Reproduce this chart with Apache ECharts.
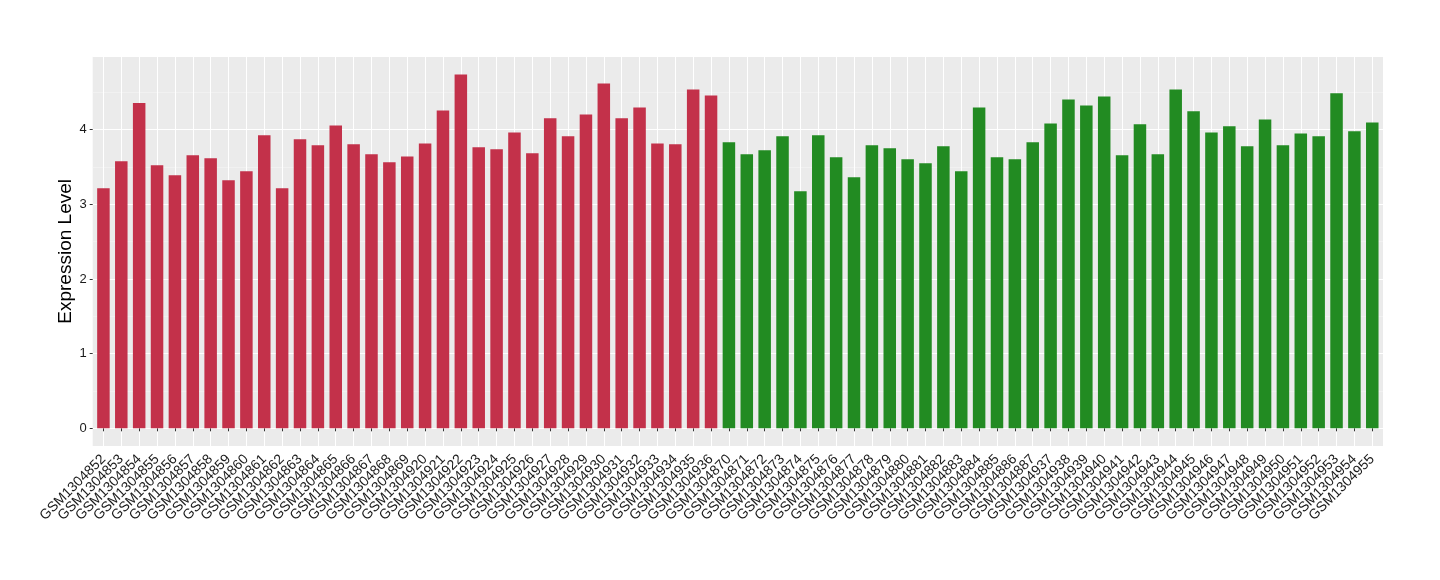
<!DOCTYPE html>
<html>
<head>
<meta charset="utf-8">
<script src="https://cdn.jsdelivr.net/npm/echarts@6/dist/echarts.min.js"></script>
<style>
html,body{margin:0;padding:0;background:#fff;}
#chart{width:1440px;height:580px;}
</style>
</head>
<body>
<div id="chart"></div>
<script>
const groupASamples = ['GSM1304852','GSM1304853','GSM1304854','GSM1304855','GSM1304856','GSM1304857','GSM1304858','GSM1304859','GSM1304860','GSM1304861','GSM1304862','GSM1304863','GSM1304864','GSM1304865','GSM1304866','GSM1304867','GSM1304868','GSM1304869','GSM1304920','GSM1304921','GSM1304922','GSM1304923','GSM1304924','GSM1304925','GSM1304926','GSM1304927','GSM1304928','GSM1304929','GSM1304930','GSM1304931','GSM1304932','GSM1304933','GSM1304934','GSM1304935','GSM1304936'];
const groupAValues = [3.215,3.576,4.356,3.522,3.388,3.656,3.616,3.322,3.442,3.924,3.215,3.870,3.790,4.057,3.803,3.669,3.562,3.642,3.816,4.258,4.740,3.763,3.736,3.963,3.683,4.151,3.910,4.204,4.619,4.151,4.298,3.816,3.803,4.539,4.459];
const groupBSamples = ['GSM1304870','GSM1304871','GSM1304872','GSM1304873','GSM1304874','GSM1304875','GSM1304876','GSM1304877','GSM1304878','GSM1304879','GSM1304880','GSM1304881','GSM1304882','GSM1304883','GSM1304884','GSM1304885','GSM1304886','GSM1304887','GSM1304937','GSM1304938','GSM1304939','GSM1304940','GSM1304941','GSM1304942','GSM1304943','GSM1304944','GSM1304945','GSM1304946','GSM1304947','GSM1304948','GSM1304949','GSM1304950','GSM1304951','GSM1304952','GSM1304953','GSM1304954','GSM1304955'];
const groupBValues = [3.830,3.669,3.723,3.910,3.175,3.924,3.629,3.362,3.790,3.750,3.602,3.549,3.776,3.442,4.298,3.629,3.602,3.830,4.084,4.405,4.325,4.445,3.656,4.071,3.669,4.539,4.245,3.963,4.044,3.776,4.137,3.790,3.950,3.910,4.486,3.977,4.097];
const yTitle = 'Expression Level';
const colorA = '#C3314A';
const colorB = '#228B22';

const categories = groupASamples.concat(groupBSamples);
const barData = groupAValues.map(v => ({value: v, itemStyle: {color: colorA}}))
  .concat(groupBValues.map(v => ({value: v, itemStyle: {color: colorB}})));

const maxV = Math.max(...groupAValues, ...groupBValues);
const yMin = -0.05 * maxV;
const yMax = maxV * 1.05;

// panel geometry (ggplot-like: 0.6 category expansion on each side)
const panelL = 92.7, panelR = 1383, panelT = 56.7, panelB = 446;
const nCat = categories.length;
const step = (panelR - panelL) / (nCat - 1 + 1.2);
const W = 1440, H = 580;

const font = 'Liberation Sans, Arial, Helvetica, sans-serif';
const chart = echarts.init(document.getElementById('chart'), null, {renderer: 'canvas'});
chart.setOption({
  animation: false,
  backgroundColor: '#ffffff',
  grid: [
    {left: panelL, top: panelT, right: W - panelR, bottom: H - panelB, show: true, backgroundColor: '#EBEBEB', borderWidth: 0},
    {left: panelL + 0.1 * step, top: panelT, right: W - panelR + 0.1 * step, bottom: H - panelB, show: false},
    {left: panelL + 0.6 * step, top: panelT, right: W - panelR + 0.6 * step, bottom: H - panelB, show: false}
  ],
  xAxis: [
    {gridIndex: 0, type: 'value', min: 0, max: 1, show: false},
    {gridIndex: 1, type: 'category', data: categories,
     axisLine: {show: false},
     axisTick: {show: true, alignWithLabel: true, length: 3, lineStyle: {color: '#333333', width: 1}},
     splitLine: {show: false},
     axisLabel: {interval: 0, rotate: 45, margin: 11, padding: [10, 0, 0, 0], fontSize: 14, color: '#1a1a1a', fontFamily: font}
    },
    {gridIndex: 2, type: 'category', data: categories, boundaryGap: false,
     axisLine: {show: false}, axisTick: {show: false}, axisLabel: {show: false},
     splitLine: {show: true, interval: 0, lineStyle: {color: '#FFFFFF', width: 1.07}}
    }
  ],
  yAxis: [
    {gridIndex: 0, type: 'value', min: yMin, max: yMax,
     name: yTitle, nameLocation: 'middle', nameGap: 17, nameMoveOverlap: false,
     nameTextStyle: {fontSize: 19, color: '#000000', fontFamily: font},
     axisLine: {show: false},
     axisTick: {show: true, length: 3, lineStyle: {color: '#333333', width: 1}},
     axisLabel: {margin: 6, fontSize: 13, color: '#1a1a1a', fontFamily: font, showMinLabel: false, showMaxLabel: false},
     splitLine: {show: true, lineStyle: {color: '#FFFFFF', width: 1.07}},
     minorTick: {show: false, splitNumber: 2},
     minorSplitLine: {show: true, lineStyle: {color: '#F5F5F5', width: 0.6}}
    },
    {gridIndex: 1, type: 'value', min: yMin, max: yMax, show: false, splitLine: {show: false}},
    {gridIndex: 2, type: 'value', min: yMin, max: yMax, show: false, splitLine: {show: false}}
  ],
  series: [
    {type: 'bar', xAxisIndex: 1, yAxisIndex: 1, data: barData, barWidth: '70%', z: 3}
  ]
});
</script>
</body>
</html>
